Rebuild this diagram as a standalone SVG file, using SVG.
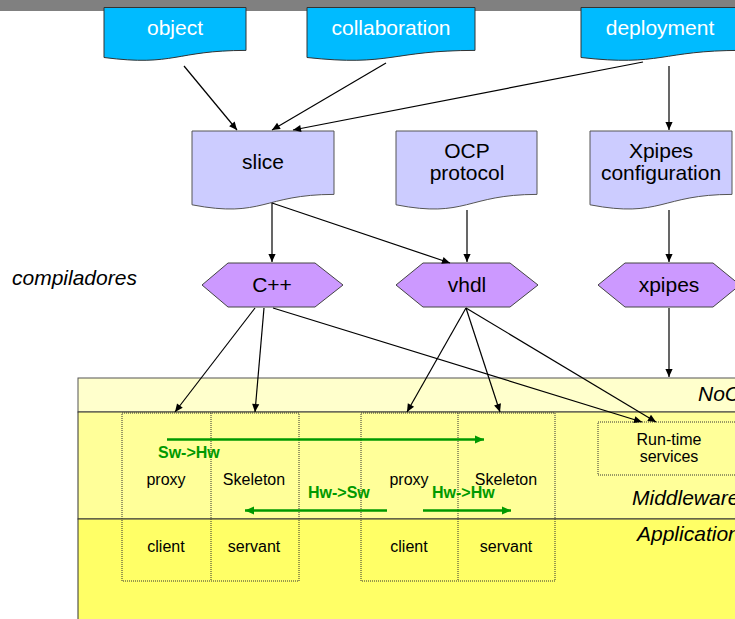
<svg xmlns="http://www.w3.org/2000/svg" width="735" height="619" viewBox="0 0 735 619">
<defs>
<marker id="ah" viewBox="0 0 10 10" refX="10" refY="5" markerWidth="10" markerHeight="8" markerUnits="userSpaceOnUse" orient="auto"><path d="M0,0.5 L10,5 L0,9.5 z" fill="#000"/></marker>
<marker id="gh" viewBox="0 0 10 10" refX="10" refY="5" markerWidth="12" markerHeight="9" markerUnits="userSpaceOnUse" orient="auto"><path d="M0,0.5 L10,5 L0,9.5 z" fill="#009900"/></marker>
</defs>
<style>
text{font-family:"Liberation Sans",Arial,sans-serif;}
.blue{fill:#00BBFF;stroke:#333;stroke-width:1;}
.lav{fill:#CCCCFF;stroke:#555;stroke-width:1;}
.hex{fill:#CC99FF;stroke:#444;stroke-width:1;}
.wt{fill:#fff;font-size:21px;text-anchor:middle;}
.bt{fill:#000;font-size:21px;text-anchor:middle;}
.st{fill:#000;font-size:16px;text-anchor:middle;}
.it{fill:#000;font-size:21px;font-style:italic;}
.gt{fill:#009900;font-size:16px;font-weight:bold;}
.conn{stroke:#000;stroke-width:1.2;fill:none;marker-end:url(#ah);}
.garr{stroke:#009900;stroke-width:2.5;fill:none;marker-end:url(#gh);}
.dot{fill:none;stroke:#333;stroke-width:1;stroke-dasharray:1,1;}
</style>
<rect x="0" y="0" width="735" height="11" fill="#808080"/>

<g id="bands">
<rect x="78" y="378" width="670" height="34" fill="#FFFFCC" stroke="#555" stroke-width="1"/>
<rect x="78" y="412" width="670" height="107" fill="#FFFF99" stroke="#333" stroke-width="1"/>
<rect x="78" y="519" width="670" height="110" fill="#FFFF66" stroke="#333" stroke-width="1"/>
<text class="it" x="698" y="401">NoC</text>
<text class="it" x="632" y="505">Middleware</text>
<text class="it" x="637" y="541">Application</text>
</g>

<g id="object"><path class="blue" d="M104,7.5 H246 V50.4 C175,50.4 175,66.7 104,57.5 Z"/><text class="wt" x="175" y="35">object</text></g>
<g id="collaboration"><path class="blue" d="M307,7.5 H475 V50.4 C391,50.4 391,66.7 307,57.5 Z"/><text class="wt" x="391" y="35">collaboration</text></g>
<g id="deployment"><path class="blue" d="M581,7.5 H741 V50.4 C661,50.4 661,66.7 581,57.5 Z"/><text class="wt" x="660" y="35">deployment</text></g>

<g id="slice"><path class="lav" d="M192,131 H334 V194.4 C263,194.4 263,218.5 192,204.8 Z"/><text class="bt" x="263" y="169">slice</text></g>
<g id="ocp"><path class="lav" d="M396,131 H537 V194.4 C466.5,194.4 466.5,218.5 396,204.8 Z"/><text class="bt" x="467" y="158">OCP</text><text class="bt" x="467" y="180">protocol</text></g>
<g id="xpipesconf"><path class="lav" d="M590,131 H732 V194.4 C661,194.4 661,218.5 590,204.8 Z"/><text class="bt" x="661" y="158">Xpipes</text><text class="bt" x="661" y="180">configuration</text></g>

<g id="cpp"><polygon class="hex" points="202,285 228,263 315,263 343,285 315,307 228,307"/><text class="bt" x="272" y="292">C++</text></g>
<g id="vhdl"><polygon class="hex" points="396,285 423,263 510,263 538,285 510,307 423,307"/><text class="bt" x="467" y="292">vhdl</text></g>
<g id="xpipes"><polygon class="hex" points="598,285 625,263 713,263 740,285 713,307 625,307"/><text class="bt" x="669" y="292">xpipes</text></g>

<g id="compiladores"><text class="it" x="12" y="285">compiladores</text></g>

<g id="sw-group">
<rect class="dot" x="122" y="413" width="177" height="168"/>
<line class="dot" x1="211" y1="413" x2="211" y2="581"/>
<text class="st" x="166" y="485">proxy</text>
<text class="st" x="254" y="485">Skeleton</text>
<text class="st" x="166" y="552">client</text>
<text class="st" x="254" y="552">servant</text>
</g>
<g id="hw-group">
<rect class="dot" x="361" y="413" width="194" height="168"/>
<line class="dot" x1="458" y1="413" x2="458" y2="581"/>
<text class="st" x="409" y="485">proxy</text>
<text class="st" x="506" y="485">Skeleton</text>
<text class="st" x="409" y="552">client</text>
<text class="st" x="506" y="552">servant</text>
</g>
<g id="runtime">
<rect class="dot" x="598" y="422" width="145" height="53"/>
<text class="st" x="669" y="445">Run-time</text>
<text class="st" x="669" y="462">services</text>
</g>

<g id="connectors">
<line class="conn" x1="184" y1="66" x2="237" y2="130"/>
<line class="conn" x1="386" y1="63" x2="272" y2="130"/>
<line class="conn" x1="643" y1="62" x2="293" y2="130"/>
<line class="conn" x1="669" y1="66" x2="669" y2="130"/>
<line class="conn" x1="272" y1="203" x2="272" y2="262"/>
<line class="conn" x1="272" y1="203" x2="450" y2="263"/>
<line class="conn" x1="467" y1="210" x2="467" y2="262"/>
<line class="conn" x1="669" y1="210" x2="669" y2="262"/>
<line class="conn" x1="669" y1="308" x2="669" y2="377"/>
<line class="conn" x1="255" y1="308" x2="175" y2="412"/>
<line class="conn" x1="264" y1="308" x2="255" y2="412"/>
<line class="conn" x1="273" y1="308" x2="642" y2="422"/>
<line class="conn" x1="466" y1="308" x2="407" y2="412"/>
<line class="conn" x1="466" y1="308" x2="500" y2="412"/>
<line class="conn" x1="466" y1="308" x2="656" y2="422"/>
<line class="garr" x1="167" y1="439.5" x2="484" y2="439.5"/>
<line class="garr" x1="387" y1="510.5" x2="245" y2="510.5"/>
<line class="garr" x1="423" y1="510.5" x2="511" y2="510.5"/>
</g>
<g id="labels">
<text class="gt" x="158" y="458">Sw-&gt;Hw</text>
<text class="gt" x="308" y="498">Hw-&gt;Sw</text>
<text class="gt" x="432" y="498">Hw-&gt;Hw</text>
</g>
</svg>
